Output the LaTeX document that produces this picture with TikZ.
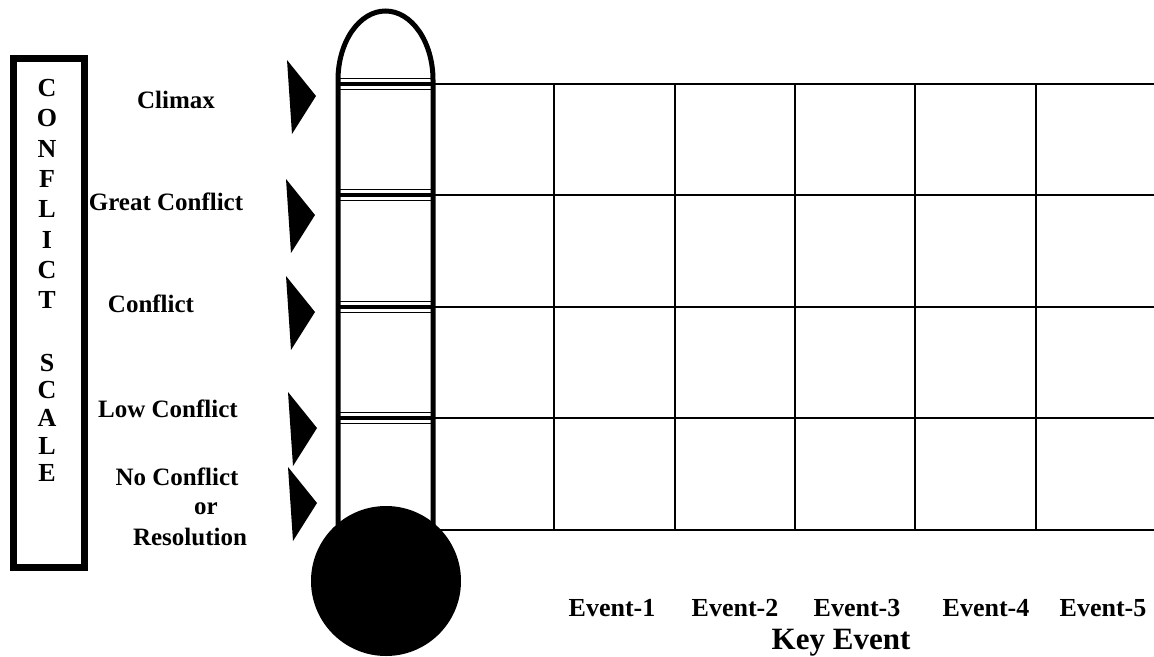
\documentclass[tikz,border=0pt]{standalone}
\usepackage{fontspec}
\setmainfont{Liberation Serif}
\usepackage{tikz}
\usetikzlibrary{positioning}

\begin{document}
\begin{tikzpicture}[x=1pt, y=-1pt,
  gridline/.style={line width=2pt},
  tube/.style={line width=5pt},
  marker/.style={fill=black},
  letter/.style={font=\fontsize{26}{30}\selectfont\bfseries, inner sep=0pt},
  level/.style={font=\fontsize{25}{30}\selectfont\bfseries, anchor=base, inner sep=0pt},
  event/.style={font=\fontsize{26}{30}\selectfont\bfseries, anchor=base, inner sep=0pt}
]
  \useasboundingbox (0,0) rectangle (1154,656);
  \def\tl{338}
  \def\tr{433}
  \def\tbase{80}

  % scale box on the left
  \draw[line width=7pt] (13,58) rectangle (84,567);
  \foreach \ch [count=\n from 0] in {C,O,N,F,L,I,C,T} {
    \pgfmathsetmacro{\yy}{88 + \n*30.3}
    \node[letter] (top\n) at (47,\yy) {\ch};
  }
  \foreach \ch [count=\n from 0] in {S,C,A,L,E} {
    \pgfmathsetmacro{\yy}{363 + \n*27.5}
    \node[letter] (bot\n) at (47,\yy) {\ch};
  }

  % level labels
  \node[level] (climax) at (176,108) {Climax};
  \node[level] (great) at (166,210) {Great Conflict};
  \node[level] (conf) at (151,312) {Conflict};
  \node[level] (low) at (168,417) {Low Conflict};
  \node[level] (none) at (177,485) {No Conflict};
  \node[level] (or) at (206,514) {or};
  \node[level] (resol) at (190,545) {Resolution};

  % pointers
  \foreach \tx/\ty in {316/96, 315/215, 315/312, 317/428, 317/503} {
    \fill (\tx,\ty) -- (\tx-29,\ty-36) -- (\tx-24,\ty+38) -- cycle;
  }

  % grid
  \foreach \yy in {84,195,307,418,530}
    \draw[gridline] (\tr,\yy) -- (1154,\yy);
  \foreach \xx in {554,675,795,915,1036}
    \draw[gridline] (\xx,84) -- (\xx,530);

  % thermometer
  \draw[tube] (\tl,525) -- (\tl,\tbase) arc[start angle=180, end angle=360, x radius=47.5, y radius=69] -- (\tr,525);
  \foreach \yy in {84,195,307,418} {
    \draw[line width=1.5pt] (\tl,\yy-5.5) -- (\tr,\yy-5.5);
    \draw[line width=3.5pt] (\tl,\yy) -- (\tr,\yy);
    \draw[line width=1.5pt] (\tl,\yy+5.5) -- (\tr,\yy+5.5);
  }
  \node[circle, fill=black, minimum size=150pt, inner sep=0pt] (bulb) at (386,581) {};

  % events
  \foreach \xx [count=\n] in {612,735,857,986,1103}
    \node[event] (ev\n) at (\xx,616) {Event-\n};
  \node[event, font=\fontsize{31}{36}\selectfont\bfseries] (key) at (841,649) {Key Event};
\end{tikzpicture}
\end{document}
